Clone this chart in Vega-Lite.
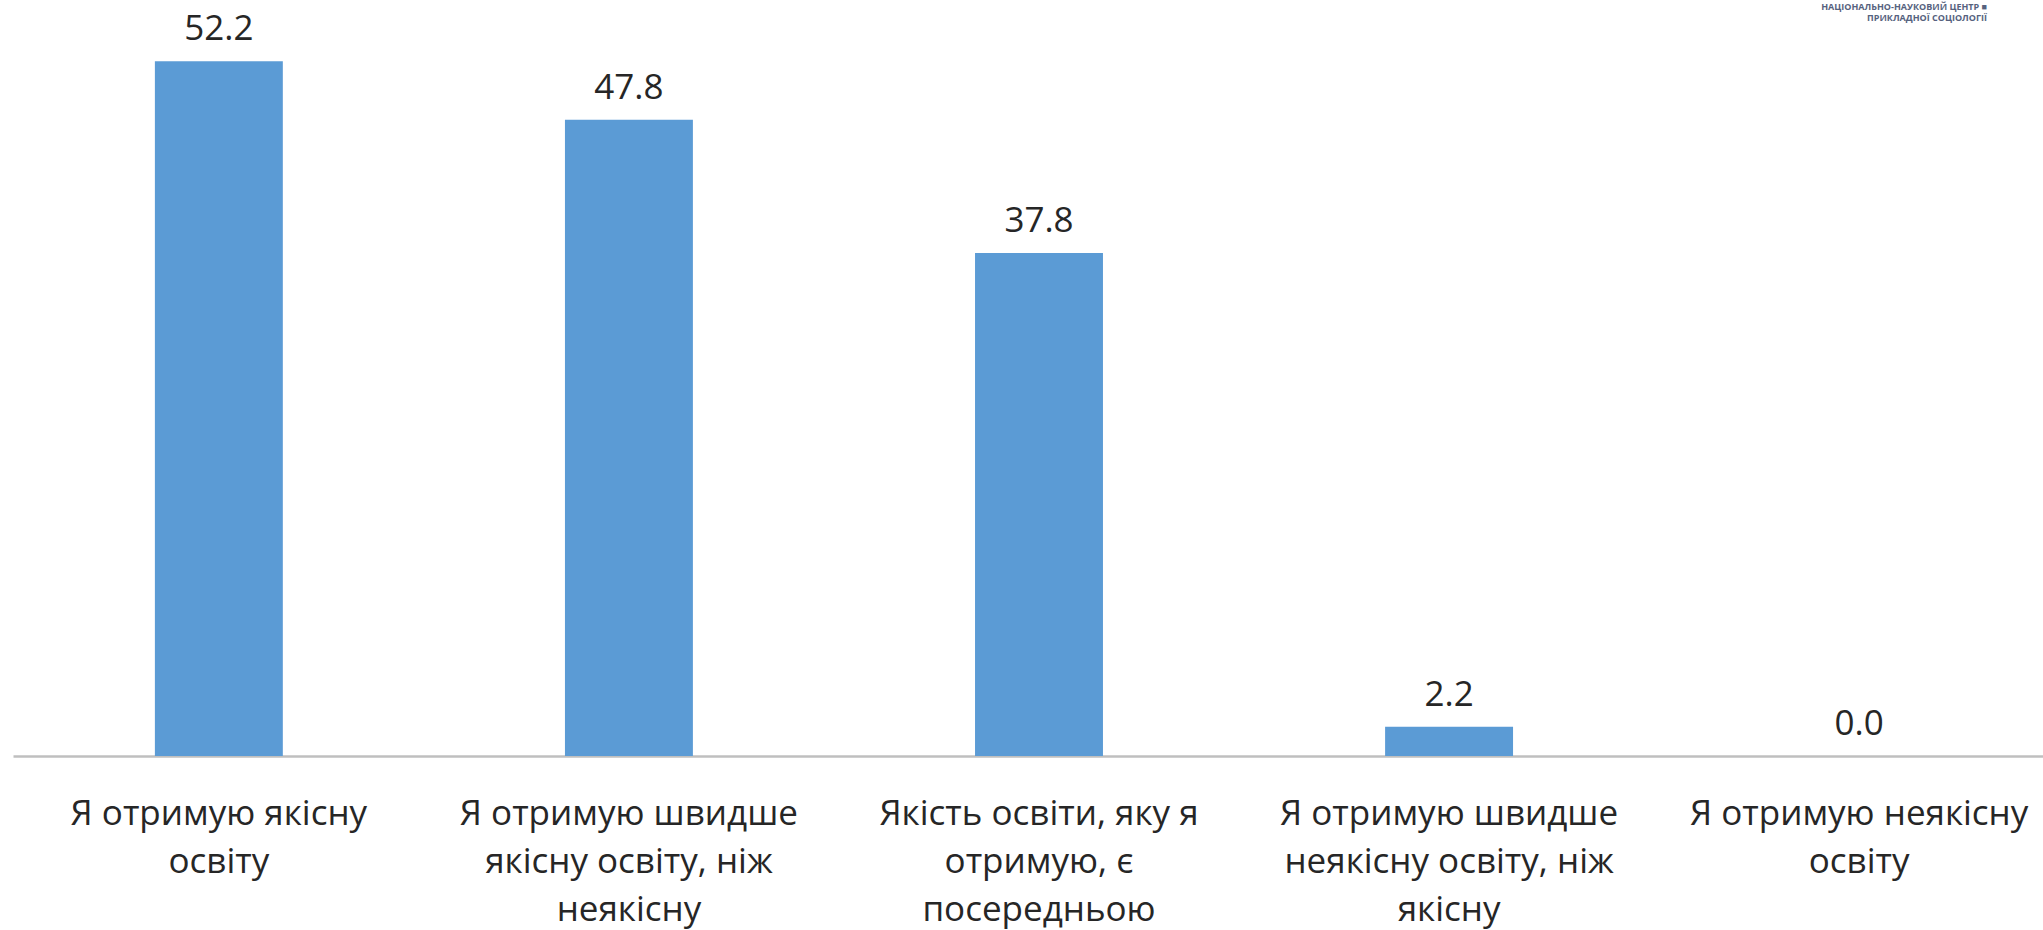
{
  "$schema": "https://vega.github.io/schema/vega-lite/v6.json",
  "autosize": "none",
  "width": 2030,
  "height": 736,
  "padding": {"left": 13, "top": 20, "right": 0, "bottom": 174},
  "background": "white",
  "title": {
    "text": ["НАЦІОНАЛЬНО-НАУКОВИЙ ЦЕНТР  ■", "ПРИКЛАДНОЇ СОЦІОЛОГІЇ"],
    "anchor": "end",
    "frame": "group",
    "fontSize": 9,
    "lineHeight": 11,
    "font": "Open Sans",
    "fontWeight": "bold",
    "color": "#56627e",
    "offset": 1,
    "dy": 12,
    "dx": -56
  },
  "data": {
    "values": [
      {"category": "Я отримую якісну\nосвіту", "value": 52.2},
      {"category": "Я отримую швидше\nякісну освіту, ніж\nнеякісну", "value": 47.8},
      {"category": "Якість освіти, яку я\nотримую, є\nпосередньою", "value": 37.8},
      {"category": "Я отримую швидше\nнеякісну освіту, ніж\nякісну", "value": 2.2},
      {"category": "Я отримую неякісну\nосвіту", "value": 0.0}
    ]
  },
  "encoding": {
    "x": {
      "field": "category",
      "type": "nominal",
      "sort": null,
      "scale": {"range": [0, 2052], "paddingInner": 0.688, "paddingOuter": 0.346},
      "axis": {
        "title": null,
        "labelAngle": 0,
        "labelExpr": "split(datum.value, '\\n')",
        "labelFont": "Open Sans",
        "labelFontSize": 35,
        "labelColor": "#262626",
        "labelLineHeight": 48,
        "labelLimit": 0,
        "labelPadding": 40,
        "labelAlign": "center",
        "labelBaseline": "top",
        "ticks": false,
        "domainColor": "#bfbfbf",
        "domainWidth": 2.5,
        "grid": false
      }
    },
    "y": {
      "field": "value",
      "type": "quantitative",
      "scale": {"domain": [0, 55.3], "nice": false},
      "axis": null
    }
  },
  "layer": [
    {"mark": {"type": "bar", "color": "#5B9BD5"}},
    {
      "mark": {
        "type": "text",
        "baseline": "alphabetic",
        "dy": -21,
        "font": "Open Sans",
        "fontSize": 35,
        "color": "#262626"
      },
      "encoding": {"text": {"field": "value", "type": "quantitative", "format": ".1f"}}
    }
  ],
  "config": {"view": {"stroke": null}}
}
